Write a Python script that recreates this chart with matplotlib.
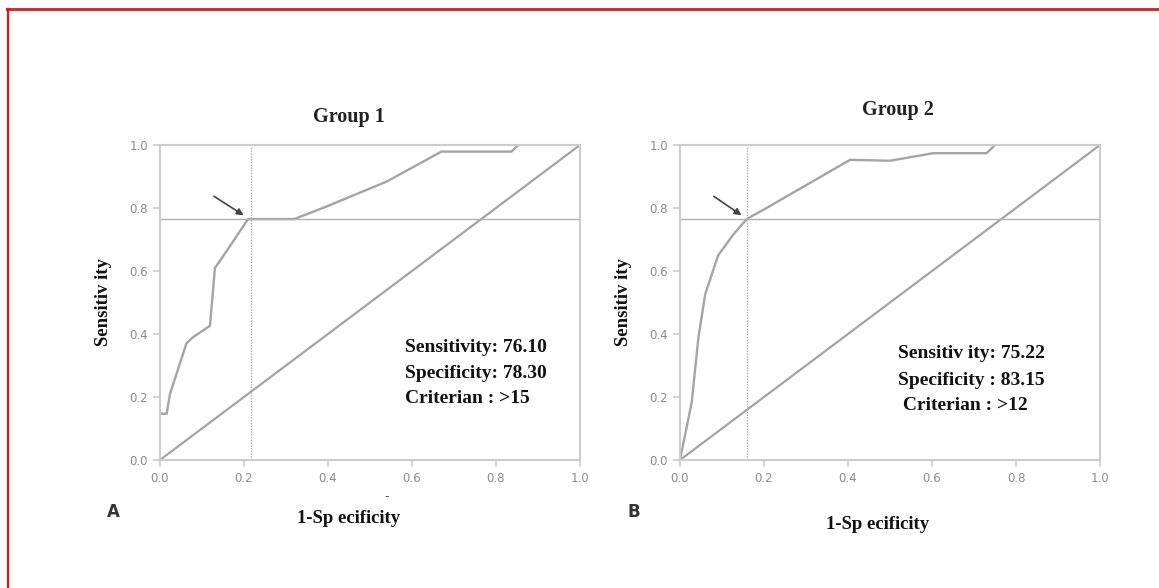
import matplotlib
matplotlib.use("Agg")
import matplotlib.pyplot as plt
from matplotlib.lines import Line2D

# ROC curve points
g1_fpr = [0.0, 0.016, 0.024, 0.063, 0.079, 0.119, 0.131, 0.147, 0.21, 0.32, 0.397, 0.54, 0.67, 0.837, 0.853]
g1_tpr = [0.147, 0.147, 0.21, 0.37, 0.39, 0.426, 0.61, 0.64, 0.765, 0.765, 0.805, 0.884, 0.979, 0.979, 1.0]
g2_fpr = [0.0, 0.028, 0.044, 0.06, 0.091, 0.127, 0.159, 0.206, 0.405, 0.5, 0.603, 0.73, 0.75]
g2_tpr = [0.0, 0.184, 0.39, 0.526, 0.65, 0.716, 0.765, 0.8, 0.953, 0.95, 0.974, 0.974, 1.0]

cut_x = [0.217, 0.159]
cut_y = [0.765, 0.765]
titles = ["Group 1", "Group 2"]
panel_letters = ["A", "B"]
stats = [["Sensitivity: 76.10", "Specificity: 78.30", "Criterian : >15"],
         ["Sensitiv ity: 75.22", "Specificity : 83.15", " Criterian : >12"]]
ticks = [0.0, 0.2, 0.4, 0.6, 0.8, 1.0]

fig = plt.figure(figsize=(11.59, 5.88), dpi=100)
fig.patch.set_facecolor("white")

# red frame bits on top and left
fig.add_artist(Line2D([0.006, 1.0], [0.985, 0.985], color="#cc3333", lw=2.2, transform=fig.transFigure))
fig.add_artist(Line2D([0.007, 0.007], [0.0, 0.985], color="#ee1111", lw=1.6, transform=fig.transFigure))

curve_col = "#a4a4a4"
spine_col = "#cccccc"
serif = "Liberation Serif"

lefts = [0.138, 0.5867]
data = [(g1_fpr, g1_tpr), (g2_fpr, g2_tpr)]
text_pos = [(0.583, [0.358, 0.276, 0.195]), (0.52, [0.337, 0.253, 0.172])]
arrows = [((0.123, 0.842), (0.205, 0.772)), ((0.075, 0.842), (0.152, 0.772))]
title_y = [1.09, 1.11]
title_x = [0.45, 0.52]
xlab_y = [-0.185, -0.205]
xlab_x = [0.45, 0.47]

for i in range(2):
    ax = fig.add_axes([lefts[i], 0.2177, 0.3624, 0.5357])
    ax.set_xlim(0, 1)
    ax.set_ylim(0, 1)
    for s in ax.spines.values():
        s.set_color(spine_col)
        s.set_linewidth(1.5)
    ax.tick_params(colors=spine_col, length=5, width=1.2, labelcolor="#8a8a8a", labelsize=8.5)
    ax.set_xticks(ticks)
    ax.set_yticks(ticks)
    ax.set_xticklabels(["%.1f" % t for t in ticks])
    ax.set_yticklabels(["%.1f" % t for t in ticks])

    fx, ty = data[i]
    ax.plot([0, 1], [0, 1], color=curve_col, lw=1.6)
    ax.plot(fx, ty, color=curve_col, lw=1.7)
    ax.axhline(cut_y[i], color="#b0b0b0", lw=1.0)
    ax.axvline(cut_x[i], color="#b0b0b0", lw=1.0, ls=(0, (1, 1)))

    (x0, y0), (x1, y1) = arrows[i]
    ax.annotate("", xy=(x1, y1), xytext=(x0, y0),
                arrowprops=dict(arrowstyle="-|>", color="#444444", lw=1.2, mutation_scale=10))

    tx, tys = text_pos[i]
    for line, yy in zip(stats[i], tys):
        ax.text(tx, yy, line, fontsize=14, fontweight="bold", family=serif,
                color="#111111", va="center", ha="left")

    ax.text(title_x[i], title_y[i], titles[i], transform=ax.transAxes, fontsize=14.5,
            fontweight="bold", family=serif, ha="center", va="center", color="#222222")
    ax.text(xlab_x[i], xlab_y[i], "1-Sp ecificity", transform=ax.transAxes, fontsize=13.5,
            fontweight="bold", family=serif, ha="center", va="center", color="#111111")
    ax.text(-0.135, 0.5, "Sensitiv ity", transform=ax.transAxes, fontsize=13.5, rotation=90,
            fontweight="bold", family=serif, ha="center", va="center", color="#111111")
    ax.text(-0.11, -0.165, panel_letters[i], transform=ax.transAxes, fontsize=12,
            fontweight="bold", ha="center", va="center", color="#333333")

# stray dash under the first panel's axis
fig.text(387 / 1159, 1 - 497 / 588, "-", fontsize=9, color="#555555", ha="center", va="center")

fig.savefig("out.png", dpi=100, facecolor="white")
